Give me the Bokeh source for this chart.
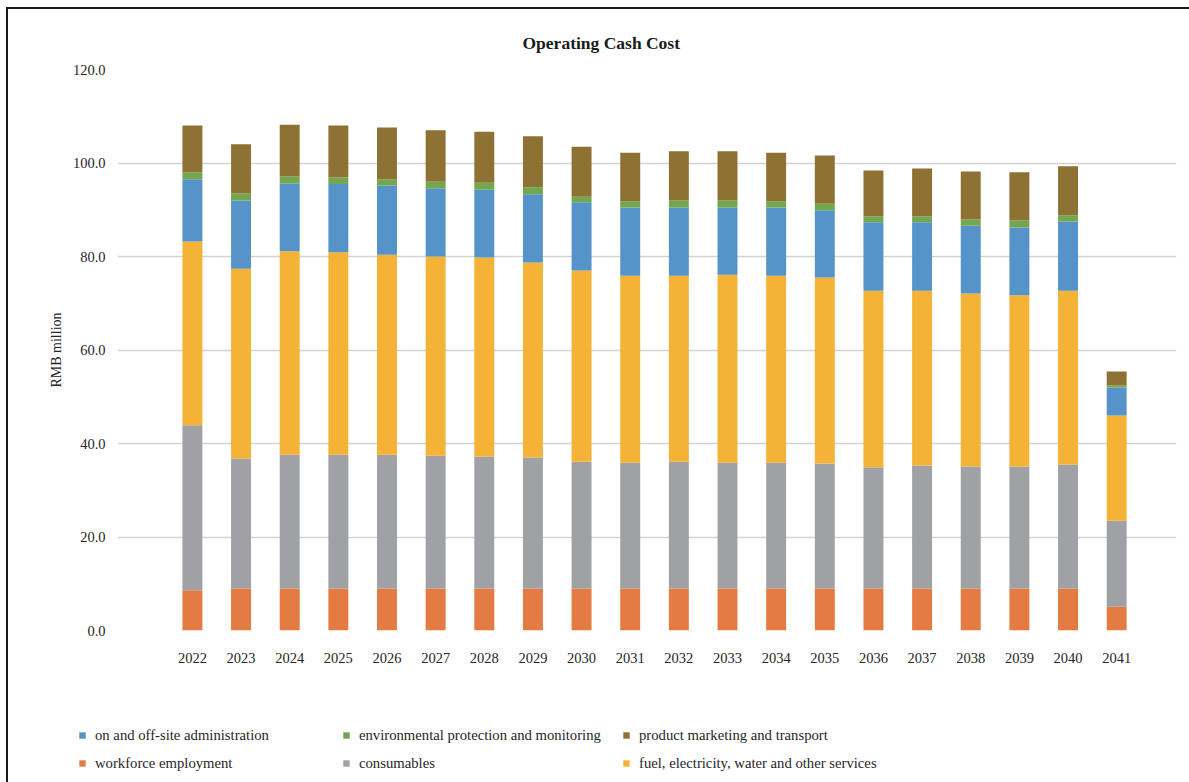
from bokeh.plotting import figure
from bokeh.models import Legend, LegendItem, Range1d, FixedTicker, NumeralTickFormatter
from bokeh.embed import file_html
from bokeh.resources import INLINE

years = [2022, 2023, 2024, 2025, 2026, 2027, 2028, 2029, 2030, 2031,
         2032, 2033, 2034, 2035, 2036, 2037, 2038, 2039, 2040, 2041]
workforce = [8.6, 9.0, 9.0, 9.0, 9.0, 9.0, 9.0, 9.0, 9.0, 9.0,
             9.0, 9.0, 9.0, 9.0, 9.0, 9.0, 9.0, 9.0, 9.0, 5.1]
consumables = [35.3, 27.8, 28.6, 28.6, 28.6, 28.4, 28.2, 28.0, 27.1, 26.9,
               27.1, 26.9, 26.9, 26.7, 25.9, 26.3, 26.1, 26.1, 26.5, 18.4]
fuel = [39.3, 40.6, 43.5, 43.3, 42.8, 42.6, 42.6, 41.7, 40.9, 40.0,
        39.8, 40.2, 40.0, 39.8, 37.8, 37.4, 37.0, 36.6, 37.2, 22.5]
admin = [13.3, 14.6, 14.5, 14.6, 14.8, 14.6, 14.5, 14.6, 14.6, 14.6,
         14.6, 14.4, 14.6, 14.4, 14.6, 14.6, 14.5, 14.5, 14.8, 6.0]
env = [1.5, 1.5, 1.5, 1.4, 1.3, 1.4, 1.5, 1.5, 1.2, 1.3,
       1.5, 1.5, 1.3, 1.4, 1.3, 1.3, 1.3, 1.5, 1.3, 0.4]
marketing = [10.0, 10.5, 11.1, 11.1, 11.1, 11.0, 10.9, 10.9, 10.7, 10.4,
             10.5, 10.5, 10.4, 10.3, 9.8, 10.2, 10.3, 10.3, 10.5, 3.0]

series = ["workforce", "consumables", "fuel", "admin", "env", "marketing"]
labels = {
    "workforce": "workforce employment",
    "consumables": "consumables",
    "fuel": "fuel, electricity, water and other services",
    "admin": "on and off-site administration",
    "env": "environmental protection and monitoring",
    "marketing": "product marketing and transport",
}
colors = ["#E37B42", "#A0A1A5", "#F4B236", "#5693C8", "#72A74F", "#8E7234"]
y_ticks = [0, 20, 40, 60, 80, 100, 120]

data = dict(years=years, workforce=workforce, consumables=consumables, fuel=fuel,
            admin=admin, env=env, marketing=marketing)

FONT = "Liberation Serif"
LINE = "linear-gradient(#1a1a1a, #1a1a1a)"

# ---- main chart ----
p = figure(width=1189, height=690, output_backend="svg", toolbar_location=None,
           x_range=Range1d(2020.46, 2042.23), y_range=Range1d(0, 120),
           min_border_left=117, min_border_right=13, min_border_top=69,
           min_border_bottom=60)
p.border_fill_alpha = 0
p.styles = {
    "background-image": f"{LINE}, {LINE}",
    "background-size": "2px 100%, 100% 2px",
    "background-position": "6px 7px, 6px 7px",
    "background-repeat": "no-repeat",
}

p.title.text = "Operating Cash Cost"
p.title.align = "left"
p.title.offset = 405
p.title.text_font = FONT
p.title.text_font_size = "17.5px"
p.title.text_font_style = "bold"
p.title.text_color = "#1a1a1a"
p.title.standoff = 34

p.vbar_stack(series, x="years", width=0.41, source=data, color=colors, line_width=0)

p.outline_line_color = None
p.xgrid.grid_line_color = None
p.ygrid.grid_line_color = "#D3D3D3"
p.ygrid.grid_line_width = 1.5

p.xaxis.ticker = FixedTicker(ticks=years)
p.yaxis.ticker = FixedTicker(ticks=y_ticks)
p.yaxis.formatter = NumeralTickFormatter(format="0.0")
for ax in (p.xaxis[0], p.yaxis[0]):
    ax.axis_line_color = None
    ax.major_tick_line_color = None
    ax.minor_tick_line_color = None
    ax.major_tick_out = 0
    ax.major_tick_in = 0
    ax.minor_tick_out = 0
    ax.minor_tick_in = 0
    ax.major_label_text_font = FONT
    ax.major_label_text_font_size = "14.5px"
    ax.major_label_text_color = "#262626"
p.xaxis.major_label_standoff = 22
p.yaxis.major_label_standoff = 12
p.yaxis.axis_label = "RMB million"
p.yaxis.axis_label_text_font = FONT
p.yaxis.axis_label_text_font_size = "14px"
p.yaxis.axis_label_text_font_style = "normal"
p.yaxis.axis_label_text_color = "#262626"
p.yaxis.axis_label_standoff = 6

# ---- legend strip (same series, bars kept out of view) ----
q = figure(width=1189, height=92, output_backend="svg", toolbar_location=None,
           x_range=Range1d(2020.46, 2042.23), y_range=Range1d(1000, 2000),
           x_axis_location=None, y_axis_location=None,
           min_border_left=0, min_border_right=0, min_border_top=0, min_border_bottom=0)
q.border_fill_alpha = 0
q.background_fill_alpha = 0
q.outline_line_color = None
q.grid.visible = False
q.styles = {
    "background-image": LINE,
    "background-size": "2px 100%",
    "background-position": "6px 0px",
    "background-repeat": "no-repeat",
}
legend_renderers = q.vbar_stack(series, x="years", width=0.41, source=data,
                                color=colors, line_width=0)
rmap = dict(zip(series, legend_renderers))

groups = [(["admin", "workforce"], 78), (["env", "consumables"], 342),
          (["marketing", "fuel"], 622)]
for keys, xloc in groups:
    lg = Legend(items=[LegendItem(label=labels[k], renderers=[rmap[k]]) for k in keys],
                location=(xloc, 9), orientation="vertical",
                glyph_width=8, glyph_height=8, label_standoff=9,
                label_height=20, spacing=8, padding=0, margin=0,
                border_line_color=None, background_fill_alpha=0,
                label_text_font=FONT, label_text_font_size="14.7px",
                label_text_color="#262626")
    q.add_layout(lg, "center")

open("out.html", "w").write(file_html([p, q], INLINE))
